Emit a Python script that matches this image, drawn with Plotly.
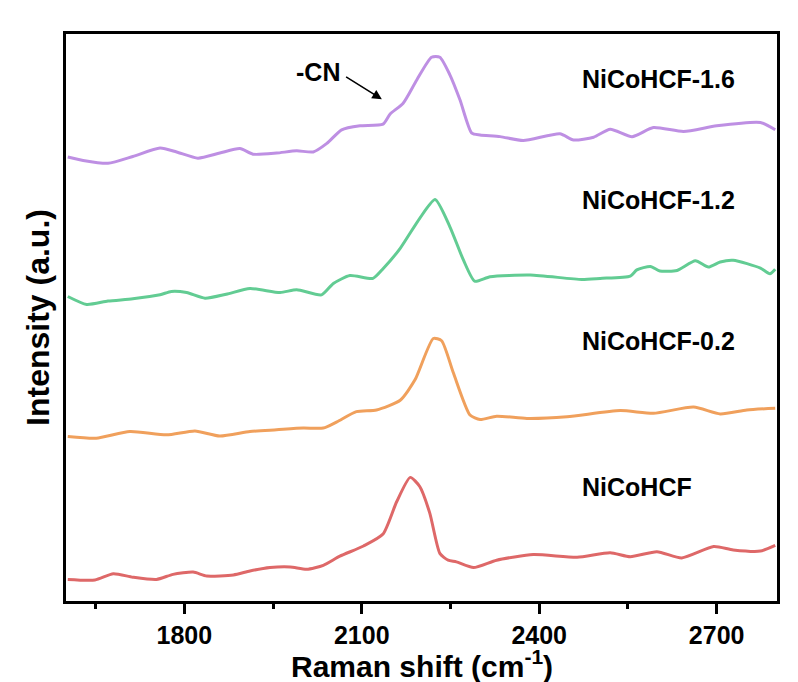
import plotly.graph_objects as go

# Raman shift (cm-1) and intensity (a.u., offset-stacked as in the figure)
wn_16 = [1603, 1629, 1671, 1713, 1759, 1787, 1823, 1860, 1894, 1916, 1956, 1990, 2018, 2041, 2066,
         2097, 2136, 2148, 2170, 2193, 2218, 2232, 2249, 2266, 2286, 2300, 2334, 2373, 2435, 2458,
         2492, 2520, 2557, 2593, 2644, 2700, 2774, 2799]
int_16 = [78.3, 77.7, 77.2, 78.4, 79.9, 79.2, 78.1, 79.0, 79.8, 78.8, 79.0, 79.4, 79.2, 80.7, 83.1,
          83.8, 84.1, 85.9, 87.8, 91.9, 95.9, 95.9, 92.8, 88.4, 82.5, 82.2, 81.9, 81.2, 82.4, 81.3,
          81.8, 83.2, 81.9, 83.5, 82.8, 83.8, 84.4, 83.1]

wn_12 = [1603, 1635, 1671, 1713, 1759, 1778, 1804, 1835, 1871, 1911, 1962, 1990, 2032, 2052, 2080,
         2119, 2136, 2165, 2198, 2224, 2249, 2272, 2291, 2317, 2385, 2472, 2503, 2554, 2565, 2588,
         2604, 2633, 2664, 2686, 2706, 2728, 2774, 2790, 2799]
int_12 = [53.7, 52.3, 52.9, 53.3, 54.0, 54.6, 54.4, 53.4, 54.1, 55.1, 54.4, 54.9, 54.0, 56.0, 57.4,
          56.9, 58.6, 62.2, 67.5, 70.8, 66.0, 60.1, 56.4, 57.2, 57.5, 56.7, 56.9, 57.3, 58.4, 59.0,
          58.2, 58.3, 60.0, 58.9, 59.8, 60.1, 58.7, 57.7, 58.5]

wn_02 = [1603, 1651, 1708, 1770, 1818, 1860, 1911, 1956, 2001, 2035, 2058, 2091, 2125, 2165, 2190,
         2221, 2235, 2255, 2283, 2300, 2328, 2379, 2447, 2537, 2593, 2661, 2706, 2751, 2799]
int_02 = [29.0, 28.7, 29.9, 29.3, 30.0, 29.1, 29.9, 30.2, 30.5, 30.5, 31.6, 33.4, 33.7, 35.4, 39.0,
          46.3, 45.9, 40.2, 32.8, 32.0, 32.6, 32.2, 32.5, 33.6, 33.1, 34.2, 33.0, 33.7, 34.0]

wn_00 = [1603, 1649, 1680, 1713, 1753, 1781, 1815, 1838, 1883, 1911, 1945, 1979, 2007, 2035, 2063,
         2103, 2136, 2159, 2182, 2198, 2215, 2232, 2246, 2260, 2289, 2328, 2390, 2464, 2520, 2554,
         2599, 2641, 2695, 2728, 2774, 2799]
int_00 = [3.8, 3.7, 4.8, 4.2, 3.8, 4.7, 5.1, 4.4, 4.6, 5.3, 5.9, 6.0, 5.6, 6.3, 7.9,
          9.7, 11.8, 17.5, 21.8, 20.2, 15.5, 8.4, 7.2, 6.9, 5.9, 7.2, 8.2, 7.7, 8.5, 7.8,
          8.7, 7.6, 9.6, 9.0, 8.8, 9.8]

series_names = ["NiCoHCF-1.6", "NiCoHCF-1.2", "NiCoHCF-0.2", "NiCoHCF"]
series_x = [wn_16, wn_12, wn_02, wn_00]
series_y = [int_16, int_12, int_02, int_00]
colors = ["#BE8FE3", "#62CC93", "#F0A05C", "#DE6868"]

label_x = [2469, 2469, 2469, 2469]
label_y = [92.1, 70.7, 45.9, 20.1]

x_ticks = [1800, 2100, 2400, 2700]

FONT = "Arial, 'Liberation Sans', sans-serif"

fig = go.Figure()
for nm, xs, ys, c in zip(series_names, series_x, series_y, colors):
    fig.add_trace(go.Scatter(x=xs, y=ys, mode="lines", name=nm,
                             line=dict(color=c, width=3, shape="spline", smoothing=0.6),
                             showlegend=False))

for nm, lx, ly in zip(series_names, label_x, label_y):
    fig.add_annotation(x=lx, y=ly, text="<b>%s</b>" % nm, showarrow=False,
                       xanchor="left", yanchor="middle",
                       font=dict(family=FONT, size=25, color="black"))

# -CN annotation with arrow
fig.add_annotation(x=2026, y=93.3, text="<b>-CN</b>", showarrow=False,
                   xanchor="center", yanchor="middle",
                   font=dict(family=FONT, size=25, color="black"))
fig.add_annotation(x=2134, y=88.5, ax=2071, ay=92.6, axref="x", ayref="y",
                   text="", showarrow=True, arrowhead=2, arrowsize=1.2,
                   arrowwidth=1.6, arrowcolor="black")

# x-axis title placed as an annotation just below the tick labels
fig.add_annotation(x=0.5, y=-0.111, xref="paper", yref="paper",
                   text="<b>Raman shift (cm<sup>-1</sup>)</b>", showarrow=False,
                   xanchor="center", yanchor="middle",
                   font=dict(family=FONT, size=30, color="black"))

fig.update_layout(
    width=798, height=682,
    margin=dict(l=66, r=21, t=34, b=81),
    paper_bgcolor="white", plot_bgcolor="white",
    font=dict(family=FONT, color="black"),
    xaxis=dict(
        range=[1600, 2802], tickvals=x_ticks,
        ticktext=["<b>%d</b>" % v for v in x_ticks],
        ticks="outside", ticklen=10, tickwidth=2.5, tickcolor="black",
        tickfont=dict(family=FONT, size=25, color="black"),
        minor=dict(ticks="outside", ticklen=5, tickwidth=2.5, tickcolor="black",
                   tick0=1650, dtick=300),
        showline=True, linecolor="black", linewidth=3, mirror=True,
        showgrid=False, zeroline=False,
    ),
    yaxis=dict(
        range=[0, 100], showticklabels=False, ticks="",
        showline=True, linecolor="black", linewidth=3, mirror=True,
        showgrid=False, zeroline=False,
        title=dict(text="<b>Intensity (a.u.)</b>",
                   font=dict(family=FONT, size=32, color="black"), standoff=4),
    ),
)

fig.write_html("out.html")
